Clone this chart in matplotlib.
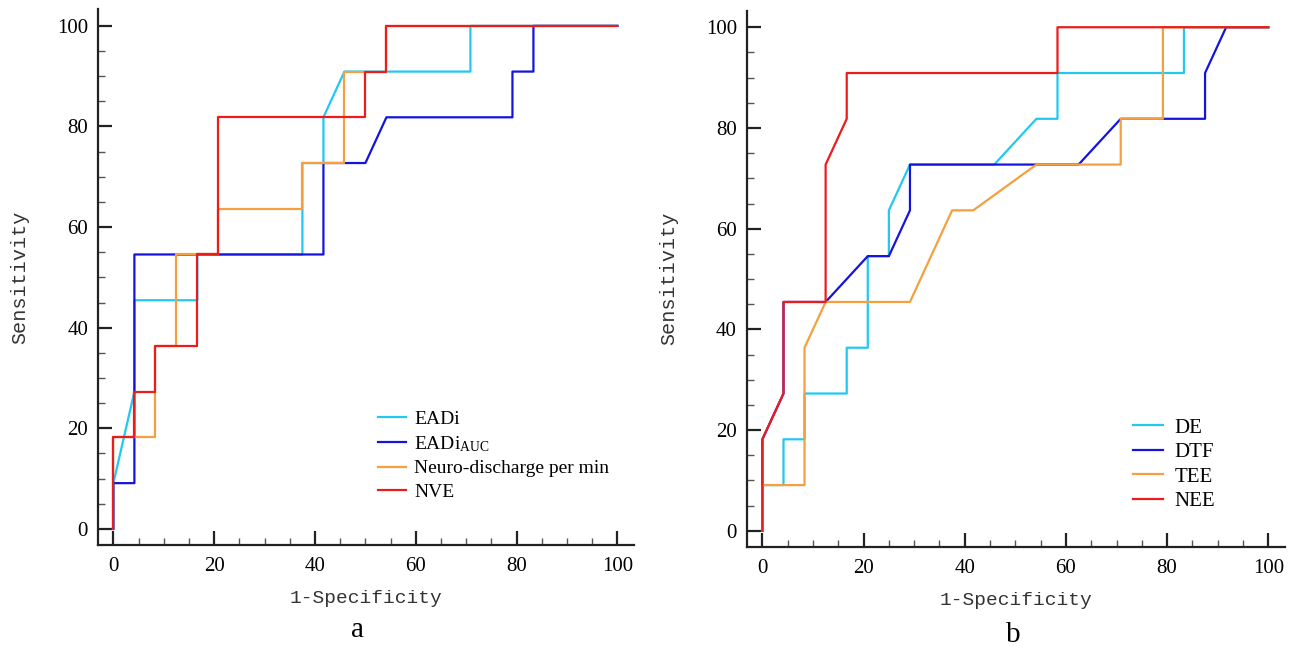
import matplotlib
matplotlib.use('Agg')
import matplotlib.pyplot as plt
from matplotlib.ticker import FixedLocator

# 数据：ROC 曲线的折点 (1-Specificity, Sensitivity)，单位 %
# 图 a
eadi_x = [0, 0, 4.17, 4.17, 16.67, 16.67, 37.5, 37.5, 41.67, 41.67, 45.83, 70.83, 70.83, 100]
eadi_y = [0, 9.09, 27.27, 45.45, 45.45, 54.55, 54.55, 72.73, 72.73, 81.82, 90.91, 90.91, 100, 100]
eadi_auc_x = [0, 0, 4.17, 4.17, 41.67, 41.67, 50, 54.17, 79.17, 79.17, 83.33, 83.33, 100]
eadi_auc_y = [0, 9.09, 9.09, 54.55, 54.55, 72.73, 72.73, 81.82, 81.82, 90.91, 90.91, 100, 100]
neuro_x = [0, 0, 8.33, 8.33, 12.5, 12.5, 20.83, 20.83, 37.5, 37.5, 45.83, 45.83, 54.17, 54.17, 100]
neuro_y = [0, 18.18, 18.18, 36.36, 36.36, 54.55, 54.55, 63.64, 63.64, 72.73, 72.73, 90.91, 90.91, 100, 100]
nve_x = [0, 0, 4.17, 4.17, 8.33, 8.33, 16.67, 16.67, 20.83, 20.83, 50, 50, 54.17, 54.17, 100]
nve_y = [0, 18.18, 18.18, 27.27, 27.27, 36.36, 36.36, 54.55, 54.55, 81.82, 81.82, 90.91, 90.91, 100, 100]

# 图 b
de_x = [0, 0, 4.17, 4.17, 8.33, 8.33, 16.67, 16.67, 20.83, 20.83, 25, 25, 29.17, 45.83, 54.17, 58.33, 58.33, 83.33, 83.33, 100]
de_y = [0, 9.09, 9.09, 18.18, 18.18, 27.27, 27.27, 36.36, 36.36, 54.55, 54.55, 63.64, 72.73, 72.73, 81.82, 81.82, 90.91, 90.91, 100, 100]
dtf_x = [0, 0, 4.17, 4.17, 12.5, 20.83, 25, 29.17, 29.17, 62.5, 70.83, 87.5, 87.5, 91.67, 100]
dtf_y = [0, 18.18, 27.27, 45.45, 45.45, 54.55, 54.55, 63.64, 72.73, 72.73, 81.82, 81.82, 90.91, 100, 100]
tee_x = [0, 0, 8.33, 8.33, 12.5, 29.17, 37.5, 41.67, 54.17, 70.83, 70.83, 79.17, 79.17, 100]
tee_y = [0, 9.09, 9.09, 36.36, 45.45, 45.45, 63.64, 63.64, 72.73, 72.73, 81.82, 81.82, 100, 100]
nee_x = [0, 0, 4.17, 4.17, 12.5, 12.5, 16.67, 16.67, 58.33, 58.33, 100]
nee_y = [0, 18.18, 27.27, 45.45, 45.45, 72.73, 81.82, 90.91, 90.91, 100, 100]

labels_a = ['EADi', 'EADi$_{\\mathregular{AUC}}$', 'Neuro-discharge per min', 'NVE']
labels_b = ['DE', 'DTF', 'TEE', 'NEE']
ticks = [0, 20, 40, 60, 80, 100]

colors = ['#22c8f2', '#1414dc', '#f4a040', '#ec1c1c']

plt.rcParams['mathtext.default'] = 'regular'
plt.rcParams['font.family'] = ['Liberation Serif', 'DejaVu Serif']

fig = plt.figure(figsize=(12.93, 6.47), dpi=100)
ax_a = fig.add_axes([0.0756, 0.1577, 0.4148, 0.828])
ax_b = fig.add_axes([0.5775, 0.1546, 0.4163, 0.829])

series_a = [(eadi_x, eadi_y), (eadi_auc_x, eadi_auc_y), (neuro_x, neuro_y), (nve_x, nve_y)]
series_b = [(de_x, de_y), (dtf_x, dtf_y), (tee_x, tee_y), (nee_x, nee_y)]

for ax, series, labels in [(ax_a, series_a, labels_a), (ax_b, series_b, labels_b)]:
    for (xs, ys), c, lab in zip(series, colors, labels):
        ax.plot(xs, ys, color=c, lw=1.6, label=lab)

    ax.set_xlim(-3.1, 103.3)
    ax.set_ylim(-3.2, 103.3)
    ax.spines['top'].set_visible(False)
    ax.spines['right'].set_visible(False)
    for s in ['left', 'bottom']:
        ax.spines[s].set_linewidth(1.6)
        ax.spines[s].set_color('#222222')

    ax.xaxis.set_major_locator(FixedLocator(ticks))
    ax.yaxis.set_major_locator(FixedLocator(ticks))
    ax.xaxis.set_minor_locator(FixedLocator(list(range(0, 101, 5))))
    ax.yaxis.set_minor_locator(FixedLocator(list(range(0, 101, 5))))
    ax.tick_params(which='major', direction='in', length=10, width=1.6, color='#222222',
                   labelsize=15, pad=9)
    ax.tick_params(which='minor', direction='in', length=5, width=1.0, color='#555555')
    ax.tick_params(axis='y', which='major', pad=7)

    ax.set_xlabel('1-Specificity', family='Liberation Mono', fontsize=14, color='#333333', labelpad=10)
    ax.set_ylabel('Sensitivity', family='Liberation Mono', fontsize=14.5, color='#333333', labelpad=20)

# 图例
ax_a.legend(loc='upper left', bbox_to_anchor=(378 / 1293, 1 - 410 / 647), bbox_transform=fig.transFigure,
            frameon=False, fontsize=14, handlelength=1.45, handletextpad=0.4, labelspacing=0.32,
            borderpad=0, borderaxespad=0)
ax_b.legend(loc='upper left', bbox_to_anchor=(1133 / 1293, 1 - 418 / 647), bbox_transform=fig.transFigure,
            frameon=False, fontsize=15, handlelength=1.45, handletextpad=0.55, labelspacing=0.24,
            borderpad=0, borderaxespad=0)

fig.text(358 / 1293, 1 - 630 / 647, 'a', fontsize=21, ha='center', va='center')
fig.text(1013 / 1293, 1 - 635 / 647, 'b', fontsize=21, ha='center', va='center')

fig.savefig('out.png', dpi=100)
